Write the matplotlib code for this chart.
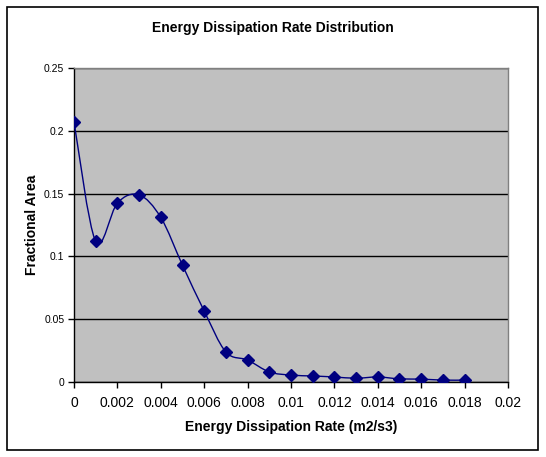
import matplotlib
matplotlib.use("Agg")
import matplotlib.pyplot as plt
import numpy as np
from matplotlib.path import Path
from matplotlib.patches import PathPatch, Rectangle

plt.rcParams['font.family'] = ['Liberation Sans', 'DejaVu Sans']

rate = [0.0, 0.001, 0.002, 0.003, 0.004, 0.005, 0.006, 0.007, 0.008, 0.009,
        0.010, 0.011, 0.012, 0.013, 0.014, 0.015, 0.016, 0.017, 0.018]
frac_area = [0.207, 0.112, 0.1425, 0.149, 0.131, 0.093, 0.0565, 0.0239, 0.0175, 0.008,
             0.0055, 0.0048, 0.004, 0.003, 0.004, 0.0025, 0.0023, 0.0015, 0.0015]
x_ticks = [0, 0.002, 0.004, 0.006, 0.008, 0.01, 0.012, 0.014, 0.016, 0.018, 0.02]
x_tick_labels = ['0', '0.002', '0.004', '0.006', '0.008', '0.01', '0.012', '0.014', '0.016', '0.018', '0.02']
y_ticks = [0, 0.05, 0.1, 0.15, 0.2, 0.25]
y_tick_labels = ['0', '0.05', '0.1', '0.15', '0.2', '0.25']

fig = plt.figure(figsize=(5.46, 4.57), dpi=100)
fig.patch.set_facecolor('white')
fig.patches.append(Rectangle((7/546, 1-450/457), 531/546, 443/457, transform=fig.transFigure,
                             fill=False, edgecolor='black', linewidth=1.2))

ax = fig.add_axes([74/546, 1-382/457, 434/546, 314/457])
ax.set_facecolor('#C0C0C0')
ax.set_xlim(0, 0.02)
ax.set_ylim(0, 0.25)

# Excel-style smoothed curve (cubic Bezier, Catmull-Rom control points)
pts = np.column_stack([rate, frac_area])
verts = [tuple(pts[0])]
codes = [Path.MOVETO]
n = len(pts)
for i in range(n - 1):
    p0 = pts[i - 1] if i > 0 else pts[i]
    p1 = pts[i]
    p2 = pts[i + 1]
    p3 = pts[i + 2] if i + 2 < n else pts[i + 1]
    c1 = p1 + (p2 - p0) / 6.0
    c2 = p2 - (p3 - p1) / 6.0
    verts += [tuple(c1), tuple(c2), tuple(p2)]
    codes += [Path.CURVE4] * 3
ax.add_patch(PathPatch(Path(verts, codes), fill=False, edgecolor='#000080', linewidth=1.0, zorder=3))
ax.plot(rate, frac_area, linestyle='none', marker='D', markersize=5.8,
        color='#000080', zorder=4)

ax.set_yticks(y_ticks)
ax.set_yticklabels(y_tick_labels)
ax.set_xticks(x_ticks)
ax.set_xticklabels(x_tick_labels)
ax.yaxis.grid(True, color='black', linewidth=1.0)
ax.set_axisbelow(True)
ax.tick_params(axis='both', direction='out', length=4, width=1, color='black')
ax.tick_params(axis='y', labelsize=7.5, pad=3)
ax.tick_params(axis='x', labelsize=10, pad=6)

for s in ['top', 'right']:
    ax.spines[s].set_color('#808080')
    ax.spines[s].set_linewidth(1.0)
for s in ['left', 'bottom']:
    ax.spines[s].set_color('black')
    ax.spines[s].set_linewidth(1.0)

fig.text(273/546, 1-28/457, 'Energy Dissipation Rate Distribution', ha='center', va='center',
         fontsize=10, fontweight='bold')
fig.text(291/546, 1-427/457, 'Energy Dissipation Rate (m2/s3)', ha='center', va='center',
         fontsize=10, fontweight='bold')
fig.text(32/546, 1-225/457, 'Fractional Area', ha='center', va='center', rotation=90,
         fontsize=10, fontweight='bold')

fig.savefig('out.png', dpi=100, facecolor='white')
